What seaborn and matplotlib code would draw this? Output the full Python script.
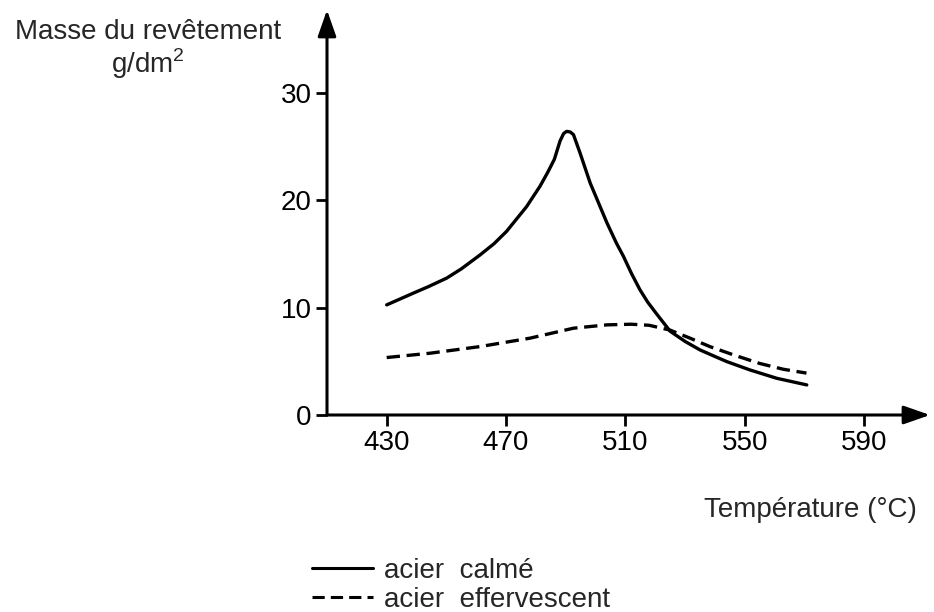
import matplotlib
matplotlib.use("Agg")
import matplotlib.pyplot as plt
import seaborn as sns
import pandas as pd
from matplotlib.lines import Line2D

# ---- data ----
temp_calme = [430, 438.9, 444, 450.1, 455, 461.3, 466, 470.2, 476.9, 481.4, 484, 486.2, 488.1,
              489.3, 490.3, 491.5, 492.6, 494.8, 498.2, 503.8, 507, 509.3, 512, 514.9,
              517.5, 520.5, 525, 530, 535, 540, 544, 551.8, 560.7, 570.8]
mass_calme = [10.25, 11.34, 11.95, 12.74, 13.6, 14.9, 15.95, 17.1, 19.4, 21.3, 22.6, 23.8, 25.5,
              26.2, 26.4, 26.35, 26.1, 24.4, 21.6, 17.9, 16.0, 14.8, 13.2, 11.65,
              10.5, 9.4, 7.8, 6.85, 6.06, 5.45, 4.97, 4.19, 3.42, 2.8]

temp_eff = [430, 444.5, 461.3, 478, 492.6, 503.8, 512, 518, 525, 531.7, 538.3, 546.2, 555, 562.9, 570.7]
mass_eff = [5.35, 5.75, 6.37, 7.15, 8.08, 8.39, 8.45, 8.35, 7.9, 7.15, 6.37, 5.6, 4.8, 4.26, 3.9]

x_ticks = [430, 470, 510, 550, 590]
y_ticks = [0, 10, 20, 30]
labels = ["acier  calmé", "acier  effervescent"]

sns.set_theme(style="white")
plt.rcParams['font.family'] = ['Liberation Sans', 'DejaVu Sans']
plt.rcParams['mathtext.fontset'] = 'custom'
plt.rcParams['mathtext.rm'] = 'Liberation Sans'

W, H = 934, 612
fig = plt.figure(figsize=(W / 100, H / 100), dpi=100)
left, right, top, bottom = 327, 930, 10, 415
ax = fig.add_axes([left / W, 1 - bottom / H, (right - left) / W, (bottom - top) / H])

df1 = pd.DataFrame({"T": temp_calme, "m": mass_calme})
df2 = pd.DataFrame({"T": temp_eff, "m": mass_eff})
sns.lineplot(data=df1, x="T", y="m", ax=ax, color="black", lw=2.4, sort=False)
sns.lineplot(data=df2, x="T", y="m", ax=ax, color="black", lw=2.4, sort=False)
ax.lines[0].set_solid_joinstyle("round")
ax.lines[-1].set_dashes((4, 2))

ax.set_xlim(410, 612.1)
ax.set_ylim(0, 37.7)
ax.set_xticks(x_ticks)
ax.set_yticks(y_ticks)
ax.set_xlabel("")
ax.set_ylabel("")
for s in ax.spines.values():
    s.set_visible(False)
ax.tick_params(axis="both", direction="out", length=8, width=2, labelsize=20,
               colors="black", pad=3, bottom=True, left=True)

arrow = dict(arrowstyle="-|>,head_length=0.8,head_width=0.28", color="black",
             lw=2.2, mutation_scale=20, shrinkA=0, shrinkB=0)
ax.annotate("", xy=(1, 0), xytext=(0, 0), xycoords="axes fraction",
            textcoords="axes fraction", arrowprops=arrow, annotation_clip=False)
ax.annotate("", xy=(0, 1), xytext=(0, 0), xycoords="axes fraction",
            textcoords="axes fraction", arrowprops=arrow, annotation_clip=False)

fig.text(148 / W, 1 - 32 / H, "Masse du revêtement", ha="center", va="center", fontsize=20)
fig.text(148 / W, 1 - 64 / H, r"g/dm$^{\mathrm{2}}$", ha="center", va="center", fontsize=20)
fig.text(917 / W, 1 - 510 / H, "Température (°C)", ha="right", va="center", fontsize=20)

handles = [Line2D([], [], color="black", lw=2.2),
           Line2D([], [], color="black", lw=2.2, dashes=(4, 2))]
fig.legend(handles, labels, loc="upper left", bbox_to_anchor=(312 / W, 1 - 558 / H),
           frameon=False, fontsize=20, handlelength=2.2, handletextpad=0.4,
           labelspacing=0.1, borderaxespad=0, borderpad=0)

fig.savefig("out.png", dpi=100, facecolor="white")
